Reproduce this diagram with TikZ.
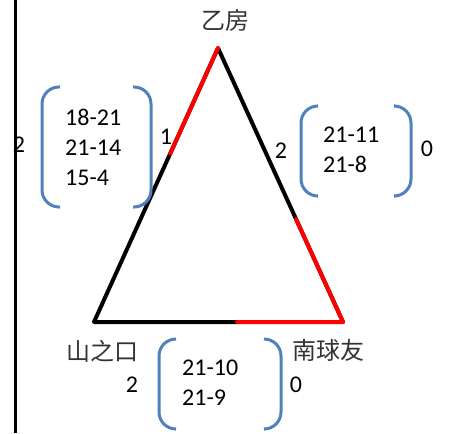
\documentclass[tikz,border=0pt]{standalone}
\usepackage{fontspec}
\setmainfont{Carlito}
\newfontfamily\cjk{Noto Sans CJK SC}
\usepackage{tikz}
\usetikzlibrary{calc}
\definecolor{brk}{HTML}{4F81BD}
\definecolor{lost}{HTML}{FF0000}
\tikzset{
  side/.style={line width=4pt, draw=black, line cap=round, line join=round},
  lostside/.style={side, draw=lost},
  paren/.style={line width=3pt, draw=brk, rounded corners=17pt},
  team/.style={font=\cjk\fontsize{24}{28}\selectfont, text=black!80, inner sep=0pt},
  score/.style={font=\fontsize{24}{30}\selectfont, align=left, inner sep=0pt, anchor=base west},
  pts/.style={font=\fontsize{24}{30}\selectfont, inner sep=0pt},
}

\begin{document}
\begin{tikzpicture}[x=1pt, y=-1pt]
  \useasboundingbox (0,0) rectangle (449,433);
  % triangle of the three teams
  \coordinate (top) at (218,48);
  \coordinate (bl) at (94,322);
  \coordinate (br) at (343,322);
  \draw[side] (top) -- (bl) -- (br) -- cycle;
  \draw[lostside] (top) -- ($(top)!0.385!(bl)$);
  \draw[lostside] ($(top)!0.625!(br)$) -- (br);
  \draw[lostside] ($(bl)!0.575!(br)$) -- (br);
  % team names
  \node[team] (tA) at (225,20) {乙房};
  \node[team] (tB) at (102,351) {山之口};
  \node[team] (tC) at (328,350) {南球友};
  % points
  \node[pts] (pL) at (19,145) {2};
  \node[pts] (pL1) at (166,137) {1};
  \node[pts] (pR2) at (281,151) {2};
  \node[pts] (pR) at (427,149) {0};
  \node[pts] (pB2) at (132,385) {2};
  \node[pts] (pB0) at (296,385) {0};
  % scores (base = last line)
  \node[score] (sL) at (65,185) {18-21\\21-14\\15-4};
  \node[score] (sR) at (323,172) {21-11\\21-8};
  \node[score] (sB) at (182,405) {21-10\\21-9};
  % bracket pairs
  \draw[paren] (60,87) -- (42,87) -- (42,207) -- (60,207);
  \draw[paren] (133,87) -- (151,87) -- (151,207) -- (133,207);
  \draw[paren] (317,106) -- (301,106) -- (301,196) -- (317,196);
  \draw[paren] (395,106) -- (411,106) -- (411,196) -- (395,196);
  \draw[paren] (175,339) -- (159,339) -- (159,429) -- (175,429);
  \draw[paren] (265,339) -- (281,339) -- (281,429) -- (265,429);
  % left rule
  \coordinate (rt) at (15,0);
  \coordinate (rb) at (15,433);
  \draw[line width=3pt] (rt) -- (rb);
\end{tikzpicture}
\end{document}
